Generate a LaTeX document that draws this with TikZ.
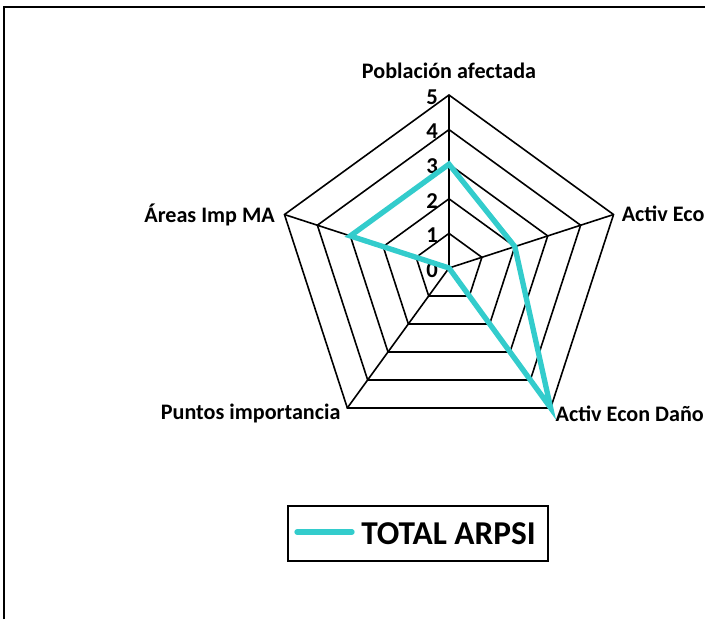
\documentclass[tikz,border=0pt]{standalone}
\usepackage{fontspec}
\setmainfont{Carlito}
\usetikzlibrary{positioning}

\definecolor{arpsi}{RGB}{51,204,204}

\tikzset{
  grid/.style={line width=1.2pt,line join=miter},
  lbl/.style={font=\fontsize{16.6}{18}\selectfont\bfseries,inner sep=0pt},
  num/.style={font=\fontsize{17}{18}\selectfont\bfseries,inner sep=0pt,anchor=east},
  serie/.style={arpsi,line width=4pt,line join=miter,line cap=round}
}

\begin{document}
\begin{tikzpicture}
        [x=0.75pt,y=0.75pt]
        \useasboundingbox (0,0) rectangle (705,619);
        % frame
        \draw[line width=0.8pt] (4,0) -- (4,612) -- (705,612);

        \coordinate (O) at (449,351);
        \begin{scope}[shift={(O)}]
          \foreach \r in {1,...,5}
            \draw[grid] (90:\r*34.6) -- (18:\r*34.6) -- (-54:\r*34.6)
                        -- (-126:\r*34.6) -- (162:\r*34.6) -- cycle;
          \coordinate (pob) at (90:173);
          \coordinate (eco) at (18:173);
          \coordinate (dano) at (-54:173);
          \coordinate (ptos) at (-126:173);
          \coordinate (areas) at (162:173);
          % valores
          \coordinate (v1) at (90:3*34.6);
          \coordinate (v2) at (18:2*34.6);
          \coordinate (v3) at (-54:5*34.6);
          \coordinate (v4) at (0,0);
          \coordinate (v5) at (162:3*34.6);
          \foreach \r in {0,...,5}
            \node[num] (n\r) at (-11,\r*34.6-2) {\r};
        \end{scope}

        \draw[grid] (O) -- (pob);
        \draw[grid] (O) -- (eco);
        \draw[grid] (O) -- (dano);
        \draw[grid] (O) -- (ptos);
        \draw[grid] (O) -- (areas);

        \node[lbl,above=12pt of pob] (tpob) {Población afectada};
        \node[lbl,right=6pt of eco,yshift=0.5pt] (teco) {Activ Eco};
        \node[lbl,right=3.5pt of dano,yshift=-4pt] (tdano) {Activ Econ Daño};
        \node[lbl,left=5pt of ptos,yshift=-4pt] (tptos) {Puntos importancia};
        \node[lbl,left=7pt of areas] (tareas) {Áreas Imp MA};

        \draw[serie] (v1) -- (v2) -- (v3) -- (v4) -- (v5) -- cycle;

        % leyenda
        \node[draw,line width=1.2pt,minimum width=195pt,minimum height=41pt,inner sep=0pt] (leg) at (418,85.5) {};
        \coordinate (la) at (297,87);
        \coordinate (lb) at (352,87);
        \draw[serie] (la) -- (lb);
        \node[font=\fontsize{25}{28}\selectfont\bfseries,inner sep=0pt,anchor=west] (tleg) at (361,85) {TOTAL ARPSI};
      \end{tikzpicture}
\end{document}
